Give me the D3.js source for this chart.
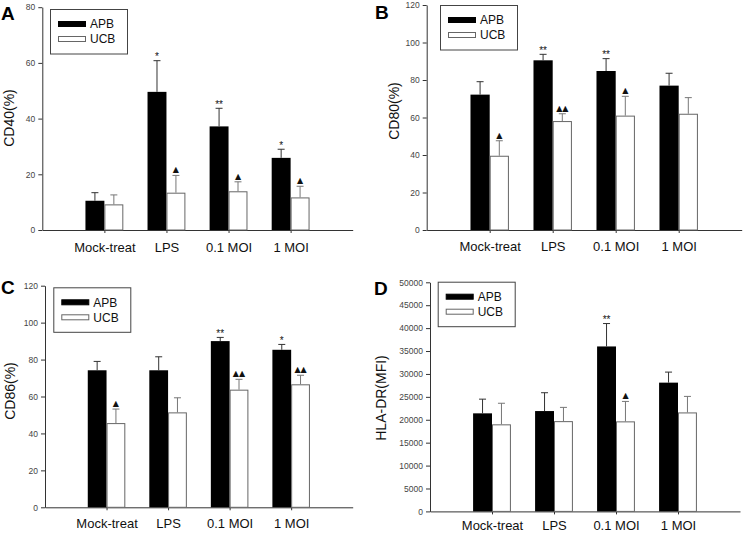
<!DOCTYPE html>
<html>
<head>
<meta charset="utf-8">
<script src="https://cdn.jsdelivr.net/npm/d3@7"></script>
<style>
  html, body { margin: 0; padding: 0; background: #fff; }
  svg { display: block; font-family: "Liberation Sans", Arial, Helvetica, sans-serif; }
</style>
</head>
<body>
<svg id="chart" width="750" height="535"></svg>
<script>
// ---------------- DATA ----------------
const categories = ["Mock-treat", "LPS", "0.1 MOI", "1 MOI"];
const seriesNames = ["APB", "UCB"];

// Panel A: CD40(%)
const cd40APB = [10.5, 49.6, 37.2, 25.9];
const cd40APBsd = [2.9, 11.2, 6.5, 3.1];
const cd40UCB = [9.2, 13.4, 13.9, 11.7];
const cd40UCBsd = [3.4, 6.2, 3.4, 4.0];
const cd40APBsig = ["", "*", "**", "*"];
const cd40UCBsig = ["", "▲", "▲", "▲"];
const cd40Ticks = [0, 20, 40, 60, 80];

// Panel B: CD80(%)
const cd80APB = [72.2, 90.5, 84.8, 77.0];
const cd80APBsd = [6.9, 3.2, 6.6, 6.6];
const cd80UCB = [39.6, 58.1, 61.0, 62.0];
const cd80UCBsd = [8.0, 3.9, 10.3, 8.6];
const cd80APBsig = ["", "**", "**", ""];
const cd80UCBsig = ["▲", "▲▲", "▲", ""];
const cd80Ticks = [0, 20, 40, 60, 80, 100, 120];

// Panel C: CD86(%)
const cd86APB = [74.2, 74.2, 90.0, 85.3];
const cd86APBsd = [4.8, 7.3, 2.0, 2.9];
const cd86UCB = [45.6, 51.4, 63.7, 66.6];
const cd86UCBsd = [7.6, 7.9, 5.6, 4.9];
const cd86APBsig = ["", "", "**", "*"];
const cd86UCBsig = ["▲", "", "▲▲", "▲▲"];
const cd86Ticks = [0, 20, 40, 60, 80, 100, 120];

// Panel D: HLA-DR(MFI)
const hlaAPB = [21400, 21900, 36000, 28100];
const hlaAPBsd = [3100, 4000, 5000, 2300];
const hlaUCB = [19000, 19700, 19650, 21600];
const hlaUCBsd = [4600, 3000, 4350, 3500];
const hlaAPBsig = ["", "", "**", ""];
const hlaUCBsig = ["", "", "▲", ""];
const hlaTicks = [0, 5000, 10000, 15000, 20000, 25000, 30000, 35000, 40000, 45000, 50000];

// ---------------- LAYOUT ----------------
const panels = [
  { letter: "A", yLabel: "CD40(%)", apb: cd40APB, apbSd: cd40APBsd, ucb: cd40UCB, ucbSd: cd40UCBsd,
    apbSig: cd40APBsig, ucbSig: cd40UCBsig, ticks: cd40Ticks,
    left: 42.3, right: 352.7, top: 7.2, bottom: 230, labelPad: 9.8,
    letterPos: [1, 20], yLabelPos: [9, 118], legendPos: [50, 9] },
  { letter: "B", yLabel: "CD80(%)", apb: cd80APB, apbSd: cd80APBsd, ucb: cd80UCB, ucbSd: cd80UCBsd,
    apbSig: cd80APBsig, ucbSig: cd80UCBsig, ticks: cd80Ticks,
    left: 426.7, right: 741.7, top: 5, bottom: 230, labelPad: 9,
    letterPos: [375, 18.5], yLabelPos: [394, 111], legendPos: [440, 5] },
  { letter: "C", yLabel: "CD86(%)", apb: cd86APB, apbSd: cd86APBsd, ucb: cd86UCB, ucbSd: cd86UCBsd,
    apbSig: cd86APBsig, ucbSig: cd86UCBsig, ticks: cd86Ticks,
    left: 45, right: 352.7, top: 285.7, bottom: 507.3, labelPad: 8.6,
    letterPos: [1, 293.5], yLabelPos: [10, 391], legendPos: [53.3, 287.3] },
  { letter: "D", yLabel: "HLA-DR(MFI)", apb: hlaAPB, apbSd: hlaAPBsd, ucb: hlaUCB, ucbSd: hlaUCBsd,
    apbSig: hlaAPBsig, ucbSig: hlaUCBsig, ticks: hlaTicks,
    left: 430, right: 740, top: 282.3, bottom: 511.4, labelPad: 6.2,
    letterPos: [374, 295], yLabelPos: [381, 398], legendPos: [437.7, 281.7] }
];

const svg = d3.select("#chart");

panels.forEach(p => {
  const g = svg.append("g");
  const x = d3.scaleLinear().domain([0, 5]).range([p.left, p.right]);
  const yMax = p.ticks[p.ticks.length - 1];
  const y = d3.scaleLinear().domain([0, yMax]).range([p.bottom, p.top]);
  const bw = x(0.305) - x(0);

  // Y axis
  const yAxis = g.append("g")
    .attr("transform", `translate(${p.left},0)`)
    .call(d3.axisLeft(y).tickValues(p.ticks).tickFormat(d3.format("d")).tickSize(4).tickSizeOuter(0).tickPadding(3));
  yAxis.selectAll("text").attr("font-size", 8.5).attr("fill", "#444")
    .attr("font-family", "'Liberation Sans', Arial, sans-serif");
  yAxis.selectAll("line").attr("stroke", "#333");
  yAxis.select(".domain").attr("stroke", "#333");

  // X axis
  const xAxis = g.append("g")
    .attr("transform", `translate(0,${p.bottom})`)
    .call(d3.axisBottom(x).tickValues([1, 2, 3, 4]).tickFormat(d => categories[d - 1])
      .tickSize(3).tickSizeOuter(0).tickPadding(p.labelPad));
  xAxis.selectAll("text").attr("font-size", 13).attr("fill", "#111")
    .attr("font-family", "'Liberation Sans', Arial, sans-serif");
  xAxis.selectAll("line").attr("stroke", "#333");
  xAxis.select(".domain").attr("stroke", "#333");

  const idx = categories.map((c, i) => i);

  // Bars
  g.selectAll(".apb").data(idx).join("rect")
    .attr("x", i => x(i + 1) - bw).attr("width", bw)
    .attr("y", i => y(p.apb[i])).attr("height", i => y(0) - y(p.apb[i]))
    .attr("fill", "#000");
  g.selectAll(".ucb").data(idx).join("rect")
    .attr("x", i => x(i + 1) + 0.5).attr("width", bw - 1)
    .attr("y", i => y(p.ucb[i]) + 0.5).attr("height", i => y(0) - y(p.ucb[i]) - 0.5)
    .attr("fill", "#fff").attr("stroke", "#666").attr("stroke-width", 1);

  // Error bars + significance marks
  const series = [
    { m: p.apb, sd: p.apbSd, sig: p.apbSig, off: -bw / 2, col: "#333" },
    { m: p.ucb, sd: p.ucbSd, sig: p.ucbSig, off: bw / 2, col: "#777" }
  ];
  series.forEach(s => {
    const eg = g.append("g");
    idx.forEach(i => {
      const cx = x(i + 1) + s.off;
      const yt = y(s.m[i] + s.sd[i]);
      eg.append("line").attr("x1", cx).attr("x2", cx).attr("y1", y(s.m[i])).attr("y2", yt)
        .attr("stroke", s.col).attr("stroke-width", 1);
      eg.append("line").attr("x1", cx - 3.5).attr("x2", cx + 3.5).attr("y1", yt).attr("y2", yt)
        .attr("stroke", s.col).attr("stroke-width", 1);
      if (s.sig[i]) {
        const isStar = s.sig[i].indexOf("*") >= 0;
        eg.append("text").attr("x", cx).attr("y", isStar ? yt - 0.5 : yt - 3)
          .attr("text-anchor", "middle")
          .attr("font-size", isStar ? 10 : 8)
          .attr("font-family", isStar ? "'Liberation Sans', Arial, sans-serif" : "'DejaVu Sans', sans-serif")
          .attr("fill", "#111")
          .text(s.sig[i]);
      }
    });
  });

  // Y label
  g.append("text")
    .attr("transform", `translate(${p.yLabelPos[0]},${p.yLabelPos[1]}) rotate(-90)`)
    .attr("text-anchor", "middle").attr("dy", "0.35em")
    .attr("font-size", 14).attr("fill", "#111")
    .text(p.yLabel);

  // Panel letter
  g.append("text").attr("x", p.letterPos[0]).attr("y", p.letterPos[1])
    .attr("font-size", 19).attr("font-weight", "bold").attr("fill", "#000")
    .text(p.letter);

  // Legend
  const lg = g.append("g").attr("transform", `translate(${p.legendPos[0]},${p.legendPos[1]})`);
  lg.append("rect").attr("x", 0.5).attr("y", 0.5).attr("width", 77).attr("height", 44.5)
    .attr("fill", "#fff").attr("stroke", "#444").attr("stroke-width", 1);
  seriesNames.forEach((name, k) => {
    const sy = 12 + k * 15;
    lg.append("rect").attr("x", 8.5).attr("y", sy + 0.5).attr("width", 27).attr("height", 5)
      .attr("fill", k === 0 ? "#000" : "#fff").attr("stroke", k === 0 ? "#000" : "#666");
    lg.append("text").attr("x", 40).attr("y", sy + 7.3)
      .attr("font-size", 12).attr("fill", "#111").text(name);
  });
});
</script>
</body>
</html>
